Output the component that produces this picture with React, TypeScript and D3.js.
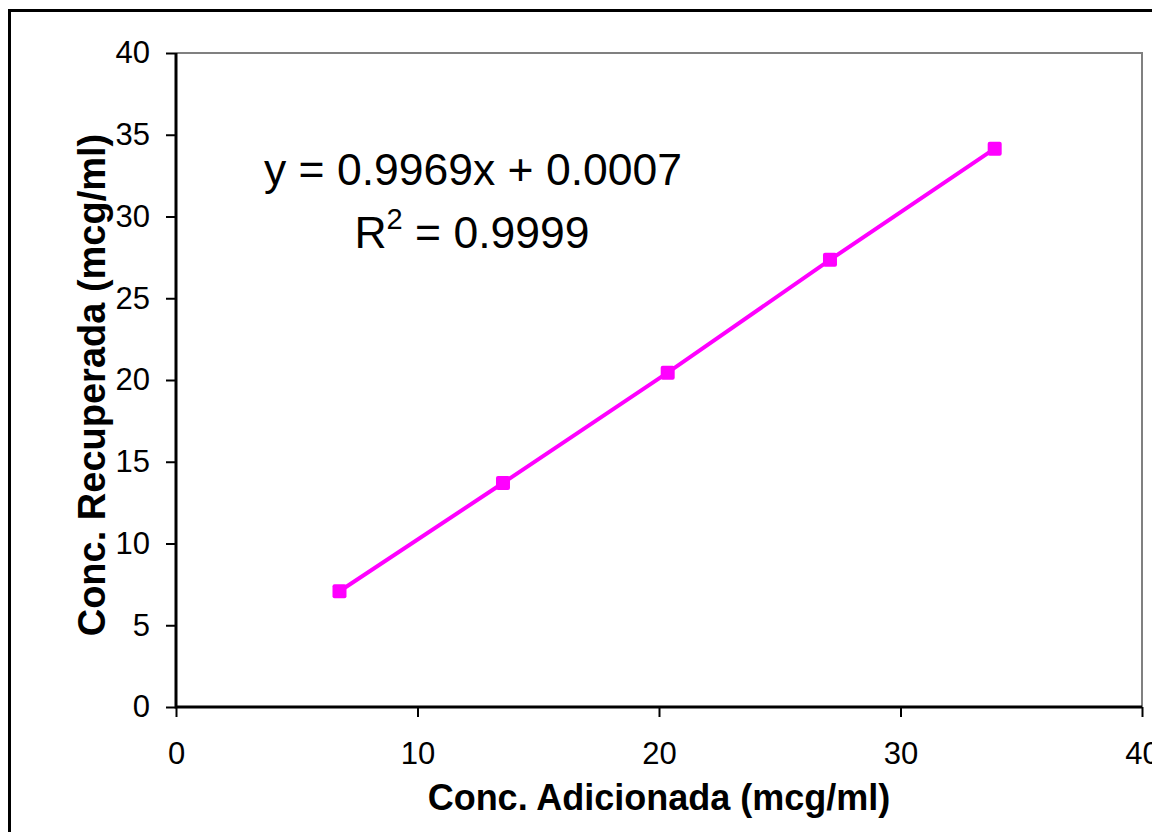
import React, { useRef, useEffect } from 'react';
import * as d3 from 'd3';

// Data
const added = [6.77, 13.54, 20.36, 27.08, 33.9];
const recovered = [7.08, 13.7, 20.45, 27.35, 34.15];
const xTicks = [0, 10, 20, 30, 40];
const yTicks = [0, 5, 10, 15, 20, 25, 30, 35, 40];
const equation = 'y = 0.9969x + 0.0007';
const r2Value = ' = 0.9999';
const xTitle = 'Conc. Adicionada (mcg/ml)';
const yTitle = 'Conc. Recuperada (mcg/ml)';

const W = 1152;
const H = 832;

const App = () => {
  const svgRef = useRef(null);

  useEffect(() => {
    const svg = d3.select(svgRef.current);
    svg.selectAll('*').remove();

    // plot area
    const left = 176, right = 1142, top = 53, bottom = 707;
    const font = 'Arial, "Liberation Sans", sans-serif';

    const x = d3.scaleLinear().domain([0, 40]).range([left, right]);
    const y = d3.scaleLinear().domain([0, 40]).range([bottom, top]);

    // outer frame of the chart (runs off the page right and bottom)
    svg.append('rect')
      .attr('x', 9.5).attr('y', 10.5)
      .attr('width', W + 20).attr('height', H + 20)
      .attr('fill', 'white')
      .attr('stroke', 'black')
      .attr('stroke-width', 3);

    // grey top and right plot border
    svg.append('path')
      .attr('d', `M${left},${top}H${right}V${bottom}`)
      .attr('fill', 'none')
      .attr('stroke', '#808080')
      .attr('stroke-width', 2);

    // y axis
    const yAxis = svg.append('g')
      .attr('transform', `translate(${left},0)`)
      .call(d3.axisLeft(y).tickValues(yTicks).tickSize(10).tickPadding(16).tickSizeOuter(0));
    yAxis.select('.domain').remove();
    yAxis.selectAll('line').attr('stroke', 'black').attr('stroke-width', 2);
    yAxis.selectAll('text')
      .style('font-family', font)
      .style('font-size', '31px')
      .attr('fill', 'black');

    // x axis
    const xAxis = svg.append('g')
      .attr('transform', `translate(0,${bottom})`)
      .call(d3.axisBottom(x).tickValues(xTicks).tickSize(10).tickPadding(25).tickSizeOuter(0));
    xAxis.select('.domain').remove();
    xAxis.selectAll('line').attr('stroke', 'black').attr('stroke-width', 2);
    xAxis.selectAll('text')
      .style('font-family', font)
      .style('font-size', '31px')
      .attr('fill', 'black');

    // axis lines on top of the ticks
    svg.append('path')
      .attr('d', `M${left},${top}V${bottom}H${right}`)
      .attr('fill', 'none')
      .attr('stroke', 'black')
      .attr('stroke-width', 3);

    // series line
    const pts = added.map((d, i) => [d, recovered[i]]);
    const line = d3.line()
      .x(d => x(d[0]))
      .y(d => y(d[1]));

    svg.append('path')
      .datum(pts)
      .attr('d', line)
      .attr('fill', 'none')
      .attr('stroke', '#FF00FF')
      .attr('stroke-width', 4);

    // square markers
    svg.selectAll('.marker')
      .data(pts)
      .enter()
      .append('rect')
      .attr('class', 'marker')
      .attr('x', d => x(d[0]) - 7)
      .attr('y', d => y(d[1]) - 7)
      .attr('width', 14)
      .attr('height', 14)
      .attr('rx', 2)
      .attr('fill', '#FF00FF');

    // trendline equation
    svg.append('text')
      .attr('x', 473)
      .attr('y', 185)
      .attr('text-anchor', 'middle')
      .style('font-family', font)
      .style('font-size', '44.5px')
      .text(equation);

    const r2 = svg.append('text')
      .attr('x', 472)
      .attr('y', 248)
      .attr('text-anchor', 'middle')
      .style('font-family', font)
      .style('font-size', '44.5px');
    r2.append('tspan').text('R');
    r2.append('tspan').attr('dy', -19).style('font-size', '29px').text('2');
    r2.append('tspan').attr('dy', 19).text(r2Value);

    // axis titles
    svg.append('text')
      .attr('x', (left + right) / 2)
      .attr('y', 810)
      .attr('text-anchor', 'middle')
      .style('font-family', font)
      .style('font-size', '36px')
      .style('font-weight', 'bold')
      .text(xTitle);

    svg.append('text')
      .attr('transform', 'translate(105,385) rotate(-90)')
      .attr('text-anchor', 'middle')
      .style('font-family', font)
      .style('font-size', '38px')
      .style('font-weight', 'bold')
      .text(yTitle);
  }, []);

  return (
    <svg
      ref={svgRef}
      width={W}
      height={H}
      style={{ position: 'absolute', left: 0, top: 0, background: 'white' }}
    ></svg>
  );
};

export default App;
